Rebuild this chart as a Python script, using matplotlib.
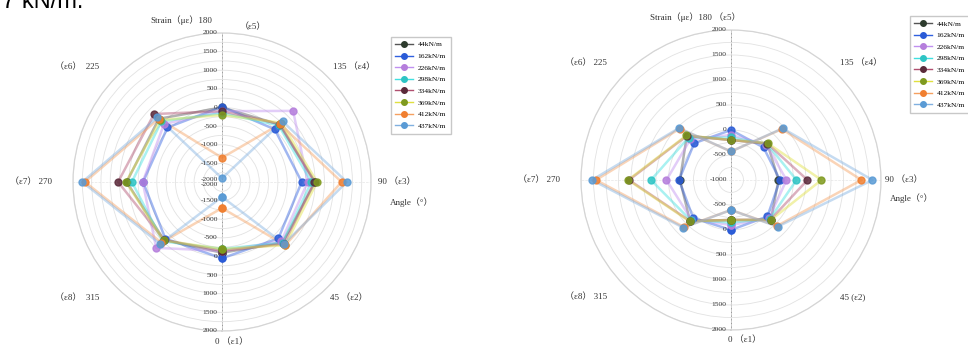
import numpy as np
import matplotlib
matplotlib.use("Agg")
import matplotlib.pyplot as plt

plt.rcParams['font.family'] = ['Liberation Serif', 'Noto Sans CJK SC', 'DejaVu Sans']

angles_deg = [0, 45, 90, 135, 180, 225, 270, 315]
loads = ["44kN/m", "162kN/m", "226kN/m", "298kN/m", "334kN/m", "369kN/m", "412kN/m", "437kN/m"]
marker_colors = ['#2d3b2d', '#2a5bd7', '#b57edc', '#2ec4c4', '#5a2a3a', '#7f9a1f', '#f07f30', '#5a9bd5']
line_colors = ['#555555', '#3060e0', '#c090f0', '#40e0e0', '#b05070', '#e0e040', '#f5a060', '#80b0e0']

# left chart, strain per angle (0..315)
left_44 = [-100, 300, 500, 180, 0, 400, 560, 200]
left_162 = [50, 140, 140, 0, 20, 70, 120, 150]
left_226 = [-150, 250, 300, 700, -100, 200, 130, 500]
left_298 = [-200, 300, 400, 150, -150, 300, 420, 250]
left_334 = [-150, 350, 480, 200, -100, 580, 790, 200]
left_369 = [-200, 400, 550, 250, -200, 350, 577, 220]
left_412 = [-1300, 400, 1210, 200, -1350, 400, 1680, 300]
left_437 = [-1600, 350, 1350, 300, -1900, 450, 1750, 350]

# right chart
right_44 = [-200, 130, -50, 30, -200, 250, 20, 160]
right_162 = [0, 30, -20, -80, 0, 40, 40, 70]
right_226 = [-100, 80, 110, 0, -100, 150, 290, 120]
right_298 = [-150, 100, 310, 20, -150, 200, 600, 140]
right_334 = [-200, 120, 530, 30, -200, 250, 1040, 160]
right_369 = [-200, 130, 810, 40, -200, 260, 1060, 170]
right_412 = [-400, 300, 1610, 440, -430, 450, 1700, 330]
right_437 = [-400, 320, 1830, 460, -430, 470, 1780, 350]

left_series = [left_44, left_162, left_226, left_298, left_334, left_369, left_412, left_437]
right_series = [right_44, right_162, right_226, right_298, right_334, right_369, right_412, right_437]

W, H = 968, 345
fig = plt.figure(figsize=(W / 100, H / 100), dpi=100)
TXT = '#333333'


def px(x, y):
    return x / W, 1 - y / H


def radar(ax, series, rmin, rmax):
    ax.set_theta_zero_location('S')
    ax.set_theta_direction(1)
    theta = np.deg2rad(angles_deg + [360])
    for vals, mc, lc, lab in zip(series, marker_colors, line_colors, loads):
        r = vals + vals[:1]
        ax.plot(theta, r, color=lc, lw=1.8, alpha=0.45, zorder=2)
        ax.plot(theta, r, ls='none', marker='o', ms=5, color=mc, alpha=0.85, zorder=3)
        ax.plot([], [], color=lc, lw=1.0, marker='o', ms=4, mfc=mc, mec=mc, label=lab)
    ax.set_ylim(rmin, rmax)
    ax.set_yticks(np.arange(rmin, rmax + 1, 250))
    ax.set_yticklabels([])
    ax.set_xticks(np.deg2rad([0, 90, 180, 270]))
    ax.set_xticklabels([])
    ax.grid(True, color='#e2e2e2', lw=0.6)
    ax.xaxis.grid(True, color='#e6e6e6', lw=0.5, ls='--')
    ax.spines['polar'].set_color('#d5d5d5')
    ax.spines['polar'].set_linewidth(0.9)
    ax.plot([0, 0], [rmin, rmax], color='#999999', lw=0.7, zorder=1)
    ax.plot([np.pi, np.pi], [rmin, rmax], color='#999999', lw=0.7, zorder=1)
    for v in range(rmin, rmax + 1, 500):
        for th in (np.pi, 0):
            if v == rmin and th == 0 and rmin == -1000:
                continue
            va = 'center'
            if v == rmin and rmin == -2000:
                va = 'bottom' if th == np.pi else 'top'
            ax.annotate(str(v), xy=(th, v), xytext=(-3, 0), textcoords='offset points',
                        ha='right', va=va, fontsize=5.4, color=TXT, zorder=4)


axl = fig.add_axes([0.0754, 0.0406, 0.3079, 0.8638], projection='polar')
radar(axl, left_series, -2000, 2000)
axr = fig.add_axes([0.6002, 0.0435, 0.3099, 0.8696], projection='polar')
radar(axr, right_series, -1000, 2000)

leg_kw = dict(loc='upper left', fontsize=5.4, frameon=True, fancybox=False, edgecolor='#bbbbbb',
              handlelength=2.4, labelspacing=0.72, borderpad=0.6, handletextpad=0.6)
axl.legend(bbox_to_anchor=px(387, 33), bbox_transform=fig.transFigure, **leg_kw)
axr.legend(bbox_to_anchor=px(906, 12), bbox_transform=fig.transFigure, **leg_kw)

fs = 6.5
labels_left = [
    (150, 20, "Strain（με）180"), (240, 27, "（ε5）"),
    (55, 67, "（ε6）  225"), (333, 67, "135 （ε4）"),
    (10, 182, "（ε7） 270"), (378, 182, "90 （ε3）"),
    (390, 202, "Angle（°）"), (55, 298, "（ε8）  315"),
    (330, 298, "45 （ε2）"), (215, 342, "0 （ε1）"),
]
labels_right = [
    (650, 17, "Strain（με）180 （ε5）"),
    (565, 63, "（ε6） 225"), (840, 63, "135 （ε4）"),
    (518, 180, "（ε7） 270"), (885, 180, "90 （ε3）"),
    (890, 198, "Angle（°）"), (565, 297, "（ε8） 315"),
    (840, 297, "45 (ε2)"), (728, 340, "0 （ε1）"),
]
for x, y, s in labels_left + labels_right:
    fig.text(*px(x, y), s, ha='left', va='center', fontsize=fs, color=TXT)

fig.text(*px(2, 8), "7 kN/m.", ha='left', va='baseline', fontsize=17,
         family=['Liberation Sans', 'DejaVu Sans'], color='black')

fig.savefig("out.png", dpi=100)
